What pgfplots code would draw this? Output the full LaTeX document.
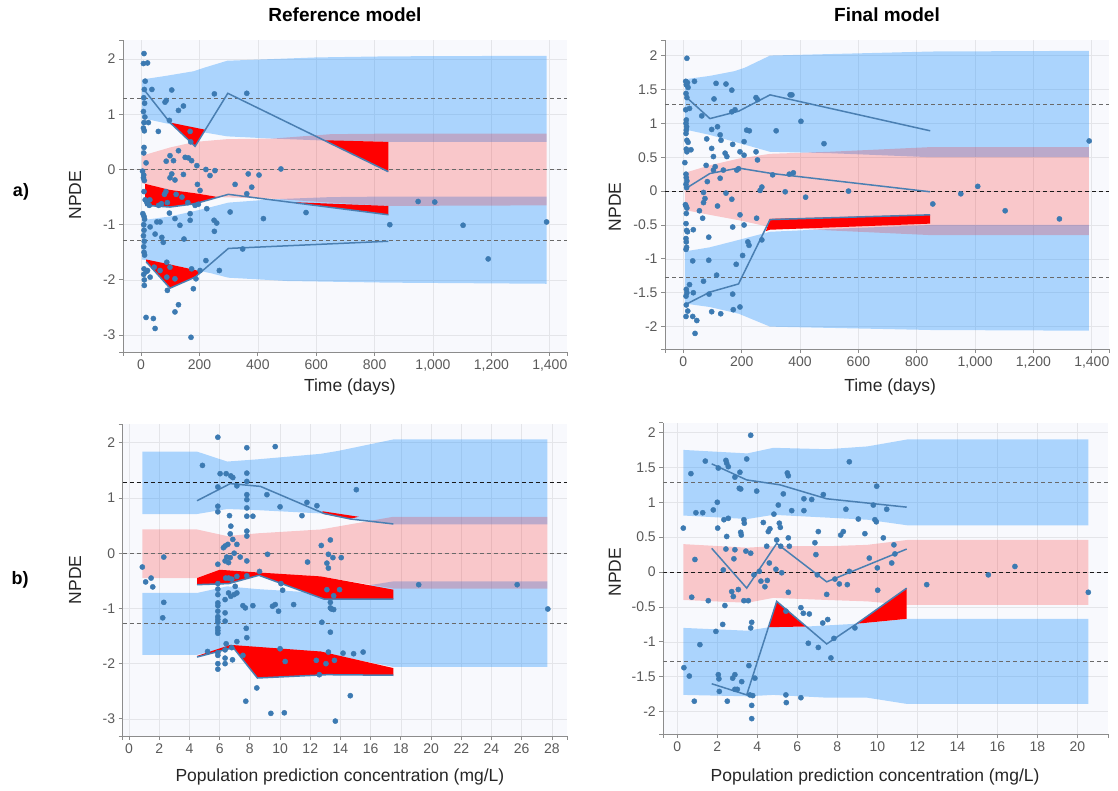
\documentclass[border=0pt]{standalone}
\usepackage{fontspec}
\setmainfont{Liberation Sans}
\usepackage{pgfplots}
\pgfplotsset{compat=1.18}

\definecolor{bandblue}{RGB}{30,144,255}
\definecolor{ptc}{RGB}{60,122,178}
\definecolor{linec}{RGB}{74,127,178}
\definecolor{bgc}{RGB}{248,249,253}
\definecolor{gridc}{RGB}{228,229,233}
\definecolor{axgray}{RGB}{140,140,140}
\definecolor{labgray}{RGB}{90,90,90}
\definecolor{dashg}{RGB}{105,105,105}
\definecolor{dashk}{RGB}{25,25,25}

\pgfplotsset{
  npde/.style={
    scale only axis, anchor=south west,
    axis x line*=bottom, axis y line*=left,
    axis line style={draw=axgray, line width=0.9pt},
    tick style={draw=axgray, line width=0.8pt},
    tick align=outside, major tick length=4pt,
    grid=major, grid style={draw=gridc, line width=0.7pt},
    axis background/.style={fill=bgc},
    tick label style={font=\fontsize{14}{16}\selectfont, text=labgray},
    label style={font=\fontsize{17.5}{20}\selectfont, text=black!85},
    /pgf/number format/assume math mode=true,
    /pgf/number format/1000 sep={,},
    extra tick style={grid=none},
    extra x tick labels={}, extra y tick labels={},
    ylabel={NPDE},
  },
  ubband/.style={draw=none, fill=bandblue, fill opacity=0.35, forget plot},
  pkband/.style={draw=none, fill=red, fill opacity=0.2, forget plot},
  redreg/.style={draw=none, fill=red, forget plot},
  obsline/.style={color=linec, line width=1.5pt, no markers},
  pts/.style={only marks, mark=*, mark size=2.6pt, mark options={draw=ptc, fill=ptc}},
  dg/.style={draw=dashg, line width=0.9pt, dash pattern=on 4pt off 3pt, no markers},
  dk/.style={draw=dashk, line width=0.9pt, dash pattern=on 4pt off 3pt, no markers},
}

\begin{document}
\begin{tikzpicture}
\path[use as bounding box] (0,0) rectangle (1118pt,791pt);

% ---------- a) Reference model ----------
\begin{axis}[npde, at={(123pt,439pt)}, width=444pt, height=312pt,
  xmin=-62, xmax=1459, ymin=-3.306, ymax=2.346,
  xtick={0,200,...,1400}, ytick={-3,-2,...,2},
  extra x ticks={-62,1459}, extra y ticks={-3.306,2.346},
  xlabel={Time (days)},
  xlabel style={at={(axis description cs:0.511,-0.112)}, anchor=center},
  ylabel style={at={(axis description cs:-0.108,0.503)}, anchor=center}]
\addplot[ubband] coordinates {(3,1.63) (90,1.70) (180,1.78) (220,1.85) (295,1.97) (600,2.03) (850,2.05) (1389,2.06)
  (1389,0.50) (850,0.50) (650,0.52) (450,0.56) (295,0.60) (185,0.70) (100,0.82) (3,0.93)};
\addplot[ubband] coordinates {(3,-0.92) (100,-0.85) (185,-0.75) (240,-0.68) (299,-0.60) (450,-0.54) (650,-0.50) (850,-0.49) (1389,-0.49)
  (1389,-2.07) (850,-2.05) (500,-2.02) (299,-1.96) (240,-1.88) (185,-1.82) (100,-1.72) (3,-1.63)};
\addplot[pkband] coordinates {(3,0.25) (100,0.40) (185,0.50) (295,0.55) (450,0.56) (650,0.64) (850,0.65) (1389,0.65)
  (1389,-0.65) (850,-0.66) (650,-0.60) (450,-0.53) (265,-0.50) (185,-0.43) (100,-0.37) (3,-0.25)};
\addplot[dg] coordinates {(-62,1.28) (1459,1.28)};
\addplot[dg] coordinates {(-62,0) (1459,0)};
\addplot[dg] coordinates {(-62,-1.28) (1459,-1.28)};
\addplot[redreg] coordinates {(99,0.85) (220,0.72) (185,0.42)};
\addplot[redreg] coordinates {(624,0.53) (847,0.50) (847,-0.03)};
\addplot[redreg] coordinates {(14,-0.26) (99,-0.37) (185,-0.43) (265,-0.50) (185,-0.62) (99,-0.68) (14,-0.65)};
\addplot[redreg] coordinates {(510,-0.59) (847,-0.66) (847,-0.82)};
\addplot[redreg] coordinates {(17,-1.63) (99,-1.72) (185,-1.82) (207,-1.85) (185,-1.95) (99,-2.15) (17,-1.67)};
\addplot[obsline] coordinates {(14,1.42) (99,0.85) (185,0.42) (297,1.38) (847,-0.04)};
\addplot[obsline] coordinates {(14,-0.65) (99,-0.68) (185,-0.62) (299,-0.45) (847,-0.82)};
\addplot[obsline] coordinates {(17,-1.67) (99,-2.15) (185,-1.95) (299,-1.43) (847,-1.30)};
\addplot[pts] coordinates {
(10,2.1) (8,1.92) (22,1.93) (14,1.6) (11,1.45) (37,1.45) (9,1.3) (12,1.2) (8,1.05) (13,0.95) (25,0.85) (10,0.85)
(8,0.75) (11,0.7) (10,0.4) (9,0.3) (17,0.12) (5,-0.03) (9,-0.1) (8,-0.15) (11,-0.2) (10,-0.4) (14,-0.55) (20,-0.6)
(28,-0.65) (6,-0.8) (10,-0.85) (12,-0.9) (9,-1.0) (10,-1.1) (8,-1.2) (11,-1.3) (9,-1.4) (10,-1.5) (12,-1.55)
(10,-1.8) (18,-1.85) (9,-1.9) (11,-2.0) (11,-2.1) (17,-2.68) (42,-2.7) (48,-2.88) (59,0.69) (82,1.22) (86,1.25)
(97,0.89) (105,1.44) (128,1.07) (145,1.15) (168,0.69) (170,0.5) (251,1.37) (362,1.38) (99,0.25) (111,0.16)
(86,0.15) (128,0.34) (151,0.22) (162,0.21) (173,0.16) (191,0.07) (105,-0.08) (116,-0.19) (99,-0.15) (145,-0.09)
(193,-0.27) (222,0.0) (236,-0.11) (253,-0.02) (202,-0.38) (225,-0.71) (196,-0.63) (322,-0.27) (305,-0.77)
(362,-0.44) (379,-0.32) (367,-0.08) (404,-0.1) (419,-0.89) (479,0.01) (565,-0.78) (852,-1.0) (949,-0.58)
(1006,-0.59) (1103,-1.01) (1189,-1.62) (1389,-0.95) (54,-0.95) (65,-0.95) (71,-1.23) (76,-1.32) (97,-0.79)
(116,-0.89) (133,-1.01) (147,-1.26) (168,-0.8) (168,-0.92) (222,-1.65) (250,-0.92) (259,-0.97) (251,-1.12)
(268,-1.83) (348,-1.44) (31,-1.04) (48,-1.17) (65,-1.83) (88,-1.68) (99,-1.77) (88,-1.95) (90,-2.19) (116,-1.98)
(128,-2.45) (116,-2.58) (171,-3.04) (179,-2.16) (173,-1.8) (188,-1.98) (202,-1.83) (31,-1.95) (45,-1.77)
(22,-1.83) (30,-0.55) (60,-0.65) (80,-0.45) (90,-0.6) (120,-0.45) (70,-0.62) (85,-0.4) (160,-0.6) (185,-0.65) (140,-0.5)};
\end{axis}

% ---------- a) Final model ----------
\begin{axis}[npde, at={(665pt,442pt)}, width=444pt, height=309pt,
  xmin=-63, xmax=1459, ymin=-2.33, ymax=2.23,
  xtick={0,200,...,1400}, ytick={-2,-1.5,...,2},
  extra x ticks={-63,1459}, extra y ticks={-2.33,2.23},
  xlabel={Time (days)},
  xlabel style={at={(axis description cs:0.507,-0.123)}, anchor=center},
  ylabel style={at={(axis description cs:-0.113,0.46)}, anchor=center}]
\addplot[ubband] coordinates {(5,1.65) (90,1.70) (175,1.77) (210,1.82) (297,2.0) (850,2.06) (1390,2.07)
  (1390,0.50) (850,0.50) (500,0.56) (297,0.58) (190,0.71) (90,0.83) (5,0.91)};
\addplot[ubband] coordinates {(5,-0.89) (90,-0.83) (190,-0.72) (297,-0.60) (500,-0.56) (850,-0.50) (1390,-0.50)
  (1390,-2.06) (850,-2.05) (297,-2.0) (190,-1.81) (90,-1.71) (5,-1.66)};
\addplot[pkband] coordinates {(5,0.27) (90,0.38) (190,0.48) (297,0.55) (500,0.58) (850,0.65) (1390,0.65)
  (1390,-0.65) (850,-0.65) (500,-0.58) (297,-0.53) (190,-0.43) (90,-0.35) (5,-0.28)};
\addplot[dg] coordinates {(-63,1.28) (1459,1.28)};
\addplot[dk] coordinates {(-63,0) (1459,0)};
\addplot[dg] coordinates {(-63,-1.28) (1459,-1.28)};
\addplot[redreg] coordinates {(283,-0.59) (297,-0.41) (846,-0.35) (846,-0.48) (605,-0.52) (297,-0.57)};
\addplot[obsline] coordinates {(9,1.39) (91,1.07) (190,1.18) (297,1.42) (846,0.89)};
\addplot[obsline] coordinates {(9,0.04) (91,0.26) (189,0.34) (303,0.26) (846,-0.01)};
\addplot[obsline] coordinates {(9,-1.67) (91,-1.49) (189,-1.37) (297,-0.42) (846,-0.35)};
\addplot[pts] coordinates {
(12,1.96) (8,1.62) (14,1.6) (10,1.57) (16,1.53) (9,1.44) (12,1.38) (8,1.2) (10,1.05) (9,1.0) (11,0.95) (10,0.9)
(9,0.85) (12,0.75) (16,0.72) (10,0.62) (12,0.58) (9,0.25) (10,0.2) (12,0.15) (9,0.1) (11,0.05) (5,0.42) (7,-0.2)
(9,-0.22) (12,-0.25) (10,-0.33) (9,-0.48) (11,-0.58) (14,-0.6) (9,-0.7) (10,-0.75) (11,-0.83) (9,-0.86)
(10,-1.45) (12,-1.5) (9,-1.55) (10,-1.68) (15,-1.77) (9,-1.85) (38,1.62) (21,1.22) (63,1.11) (105,1.36)
(112,1.59) (146,1.58) (166,1.49) (166,1.17) (177,1.2) (249,1.38) (254,1.35) (318,0.89) (366,1.42) (372,1.42)
(403,1.03) (482,0.7) (1391,0.74) (26,0.61) (80,0.77) (97,0.91) (117,0.95) (126,0.83) (129,0.75) (97,0.63)
(103,0.51) (143,0.56) (149,0.51) (169,0.69) (194,0.58) (208,0.53) (217,0.90) (226,0.89) (208,0.73) (249,0.58)
(254,0.46) (78,0.38) (82,0.14) (103,0.31) (109,0.36) (126,0.19) (137,0.31) (146,-0.03) (166,-0.12) (183,0.31)
(189,0.33) (263,0.01) (269,0.06) (306,0.24) (363,0.25) (377,0.27) (349,-0.01) (566,0.0) (419,-0.09) (69,-0.02)
(74,-0.11) (69,-0.17) (55,-0.29) (117,-0.22) (194,-0.35) (169,-0.53) (208,-0.5) (251,-0.4) (66,-0.4) (87,-0.68)
(34,-0.57) (221,-0.75) (225,-0.8) (269,-0.72) (855,-0.19) (951,-0.04) (1009,0.07) (1103,-0.29) (1289,-0.41)
(32,-1.03) (87,-1.02) (69,-1.33) (114,-1.24) (88,-1.52) (97,-1.78) (128,-1.81) (169,-1.52) (171,-1.75)
(181,-1.08) (194,-1.71) (203,-0.95) (21,-1.38) (34,-1.5) (32,-1.85) (46,-1.91) (40,-2.1)};
\end{axis}

% ---------- b) Reference model ----------
\begin{axis}[npde, at={(122.7pt,55pt)}, width=444.3pt, height=312pt,
  xmin=-0.42, xmax=29.0, ymin=-3.31, ymax=2.34,
  xtick={0,2,...,28}, ytick={-3,-2,...,2},
  extra x ticks={-0.42,29.0}, extra y ticks={-3.31,2.34},
  xlabel={Population prediction concentration (mg/L)},
  xlabel style={at={(axis description cs:0.489,-0.131)}, anchor=center},
  ylabel style={at={(axis description cs:-0.107,0.5)}, anchor=center}]
\addplot[ubband] coordinates {(0.88,1.84) (4.5,1.84) (6.5,1.66) (8.5,1.70) (12.7,1.80) (13.8,1.85) (17.5,2.06) (27.7,2.06)
  (27.7,0.52) (17.5,0.52) (12.7,0.72) (8.5,0.78) (6.5,0.80) (4.5,0.71) (0.88,0.71)};
\addplot[ubband] coordinates {(0.88,-0.72) (4.5,-0.72) (6.5,-0.60) (8.5,-0.65) (12.7,-0.72) (17.5,-0.51) (27.7,-0.51)
  (27.7,-2.06) (17.5,-2.06) (12.7,-1.80) (8.5,-1.75) (6.5,-1.72) (4.5,-1.84) (0.88,-1.84)};
\addplot[pkband] coordinates {(0.88,0.43) (4.5,0.43) (6.5,0.31) (8.5,0.36) (12.7,0.43) (17.5,0.66) (27.7,0.66)
  (27.7,-0.64) (17.5,-0.64) (12.7,-0.42) (8.5,-0.36) (6.5,-0.33) (4.5,-0.45) (0.88,-0.45)};
\addplot[dk] coordinates {(-0.42,1.28) (29,1.28)};
\addplot[dg] coordinates {(-0.42,0) (29,0)};
\addplot[dg] coordinates {(-0.42,-1.28) (29,-1.28)};
\addplot[redreg] coordinates {(12.8,0.76) (15.2,0.66) (14.6,0.62) (12.9,0.71)};
\addplot[redreg] coordinates {(4.5,-0.45) (6.0,-0.30) (8.6,-0.35) (12.7,-0.42) (17.5,-0.66) (17.5,-0.83) (12.9,-0.83) (8.6,-0.40) (6.6,-0.55) (4.5,-0.57)};
\addplot[redreg] coordinates {(4.5,-1.86) (6.7,-1.66) (12.7,-1.78) (17.5,-2.08) (17.5,-2.21) (13.1,-2.20) (8.5,-2.26) (6.9,-1.71) (4.5,-1.88)};
\addplot[obsline] coordinates {(4.5,0.95) (6.7,1.26) (8.7,1.21) (12.9,0.72) (14.65,0.62) (17.5,0.53)};
\addplot[obsline] coordinates {(4.5,-0.57) (6.6,-0.55) (8.6,-0.40) (12.9,-0.83) (17.5,-0.83)};
\addplot[obsline] coordinates {(4.5,-1.88) (6.9,-1.71) (8.5,-2.26) (13.1,-2.20) (17.5,-2.21)};
\addplot[pts] coordinates {
(0.88,-0.25) (1.1,-0.52) (1.46,-0.45) (1.57,-0.61) (2.3,-0.07) (2.3,-0.89) (2.23,-1.17) (4.86,1.59) (5.2,-1.78)
(5.88,2.1) (5.88,1.2) (5.88,0.85) (5.88,0.75) (5.88,-0.2) (5.88,-0.55) (5.88,-0.65) (5.88,-0.75) (5.88,-0.9)
(5.88,-0.95) (5.88,-1.05) (5.88,-1.15) (5.88,-1.2) (5.88,-1.25) (5.88,-1.35) (5.88,-1.4) (5.88,-1.45) (5.88,-1.8)
(5.88,-1.85) (5.88,-2.0) (5.88,-2.1) (6.03,1.44) (6.43,1.44) (6.74,1.4) (6.87,1.37) (7.14,1.22) (7.8,1.91)
(7.8,1.45) (7.8,1.3) (7.8,1.06) (7.8,0.97) (7.8,0.82) (7.8,0.67) (8.2,0.67) (7.8,0.4) (7.8,0.31) (7.8,-0.14)
(7.8,-0.41) (7.76,-1.36) (7.8,-1.53) (7.7,-0.99) (7.54,-0.95) (8.2,-0.95) (6.65,0.68) (6.74,0.49) (6.7,0.35)
(6.87,0.25) (6.36,0.13) (6.54,0.16) (6.25,0.1) (6.47,-0.07) (6.7,-0.08) (6.36,-0.14) (6.59,-0.17) (6.96,0.0)
(7.14,0.16) (7.36,-0.07) (6.59,-0.45) (6.4,-0.45) (6.8,-0.47) (7.14,-0.42) (6.59,-0.72) (6.74,-0.78) (6.96,-0.75)
(7.14,-0.72) (7.03,-0.6) (6.36,-0.84) (6.36,-1.08) (6.36,-1.23) (6.36,-1.75) (6.36,-1.9) (6.36,-2.0) (6.43,-1.64)
(6.8,-1.71) (6.85,-1.93) (7.54,-1.85) (7.14,-1.6) (7.73,-2.68) (8.46,-2.44) (8.64,-0.33) (9.17,-0.02) (9.13,1.06)
(9.68,1.93) (10.0,0.84) (10.06,-0.55) (10.17,-0.67) (9.39,-2.9) (10.28,-2.89) (9.5,-0.96) (9.68,-0.93) (9.9,-1.05)
(10.0,-1.73) (10.34,-1.96) (10.9,-0.93) (11.45,0.68) (11.78,0.92) (11.82,-0.16) (12.44,0.86) (12.4,-1.94)
(12.6,-2.2) (12.73,0.14) (12.77,-1.25) (13.04,-2.0) (13.1,-0.66) (13.1,-0.18) (13.2,-0.02) (13.2,-0.27)
(13.33,0.24) (13.33,-0.89) (13.33,-0.99) (13.33,-1.43) (13.2,-1.79) (13.4,-1.01) (13.55,-1.02) (13.5,-0.08)
(13.55,-0.77) (13.6,-1.94) (13.66,-3.04) (13.94,-0.66) (14.05,-0.08) (14.17,-1.81) (14.65,-2.58) (14.87,-1.82)
(15.05,1.15) (15.5,-1.79) (19.18,-0.57) (25.7,-0.57) (27.73,-1.01)};
\end{axis}

% ---------- b) Final model ----------
\begin{axis}[npde, at={(663.3pt,57pt)}, width=445pt, height=311.3pt,
  xmin=-0.7, xmax=21.55, ymin=-2.32, ymax=2.14,
  xtick={0,2,...,20}, ytick={-2,-1.5,...,2},
  extra x ticks={-0.7,21.55}, extra y ticks={-2.32,2.14},
  xlabel={Population prediction concentration (mg/L)},
  xlabel style={at={(axis description cs:0.476,-0.138)}, anchor=center},
  ylabel style={at={(axis description cs:-0.109,0.52)}, anchor=center}]
\addplot[ubband] coordinates {(0.3,1.75) (3.5,1.70) (4.8,1.78) (7.5,1.76) (9.5,1.80) (11.5,1.90) (20.55,1.90)
  (20.55,0.67) (11.5,0.67) (9.5,0.75) (7.5,0.78) (4.8,0.82) (3.5,0.76) (0.3,0.81)};
\addplot[ubband] coordinates {(0.3,-0.80) (3.5,-0.84) (4.6,-0.79) (6.5,-0.78) (9.0,-0.74) (11.5,-0.67) (20.55,-0.67)
  (20.55,-1.89) (11.5,-1.89) (9.5,-1.80) (7.5,-1.80) (4.8,-1.76) (3.5,-1.78) (0.3,-1.76)};
\addplot[pkband] coordinates {(0.3,0.40) (3.5,0.35) (4.8,0.37) (7.5,0.37) (9.5,0.39) (11.5,0.46) (20.55,0.46)
  (20.55,-0.47) (11.5,-0.47) (9.5,-0.42) (7.5,-0.40) (4.8,-0.37) (3.5,-0.44) (0.3,-0.40)};
\addplot[dg] coordinates {(-0.7,1.28) (21.55,1.28)};
\addplot[dk] coordinates {(-0.7,0) (21.55,0)};
\addplot[dg] coordinates {(-0.7,-1.28) (21.55,-1.28)};
\addplot[redreg] coordinates {(4.55,-0.79) (4.97,-0.42) (6.45,-0.78)};
\addplot[redreg] coordinates {(8.97,-0.74) (11.47,-0.23) (11.47,-0.67)};
\addplot[obsline] coordinates {(1.72,1.55) (3.47,1.32) (5.13,1.25) (7.47,1.05) (11.47,0.93)};
\addplot[obsline] coordinates {(1.72,0.34) (3.47,-0.23) (4.97,0.41) (7.47,-0.14) (11.47,0.33)};
\addplot[obsline] coordinates {(1.72,-1.60) (3.47,-1.76) (4.97,-0.42) (7.47,-1.03) (8.97,-0.74) (11.47,-0.23)};
\addplot[pts] coordinates {
(0.3,0.63) (0.33,-1.37) (0.6,-1.49) (0.68,1.41) (0.72,-0.36) (0.85,-1.85) (0.93,0.85) (0.88,0.18) (1.13,-1.04)
(1.27,0.85) (1.4,1.59) (1.55,-0.41) (1.8,0.89) (1.93,-0.85) (2.0,1.0) (2.02,0.63) (2.05,1.49) (2.05,-1.47)
(2.08,-1.53) (2.1,-1.71) (2.27,-0.75) (2.3,0.03) (2.33,0.75) (2.38,-0.48) (2.43,1.6) (2.47,1.56) (2.5,-1.85)
(2.47,0.51) (2.43,0.33) (2.55,1.51) (2.55,0.77) (2.72,-0.28) (2.8,-0.35) (2.83,0.19) (2.88,0.32) (2.77,-1.52)
(2.88,-1.47) (2.88,1.36) (2.88,-1.68) (3.0,-1.68) (3.05,-0.25) (3.13,1.43) (3.1,1.2) (3.17,1.19) (3.17,0.57)
(3.2,0.53) (3.22,-1.57) (3.33,0.75) (3.35,0.7) (3.43,0.3) (3.47,1.62) (3.33,-0.41) (3.55,-0.41) (3.58,-1.34)
(3.63,-1.76) (3.67,1.96) (3.67,0.27) (3.67,-0.8) (3.72,-0.72) (3.72,-1.91) (3.72,-2.1) (3.77,-1.77) (3.83,-0.04)
(3.88,-1.52) (3.97,1.16) (4.1,0.01) (4.18,-0.13) (4.3,0.71) (4.38,-0.21) (4.47,0.37) (4.5,-0.12) (4.55,0.58)
(4.6,0.13) (4.63,0.62) (4.83,0.83) (4.93,0.04) (4.97,0.46) (5.05,0.96) (5.1,0.7) (5.15,0.64) (5.17,0.37)
(5.22,-0.01) (5.3,1.12) (5.43,-0.56) (5.43,-1.76) (5.45,-1.87) (5.5,1.42) (5.55,1.38) (5.55,0.49) (5.6,0.37)
(5.55,-0.29) (5.72,0.88) (6.18,-1.8) (6.18,-0.51) (6.3,-0.59) (6.33,1.05) (6.33,0.88) (6.6,-0.6) (6.55,-1.02)
(6.72,1.04) (6.88,0.42) (6.93,0.25) (7.05,0.58) (7.0,-0.04) (7.05,-1.08) (7.27,-0.73) (7.3,1.11) (7.47,-0.32)
(7.52,-0.68) (7.68,-1.23) (7.83,-0.95) (7.88,-0.1) (8.1,-0.17) (8.17,0.53) (8.3,0.58) (8.43,0.9) (8.5,-0.18)
(8.6,0.01) (8.6,1.58) (8.88,-0.8) (9.05,0.76) (9.38,0.55) (9.6,0.2) (9.8,0.96) (9.88,0.75) (9.95,0.72) (9.97,1.23)
(10.0,0.06) (10.02,-0.26) (10.3,0.49) (10.47,0.9) (10.72,0.13) (10.83,0.39) (10.88,0.26) (12.47,-0.18)
(15.55,-0.04) (16.88,0.08) (20.55,-0.29)};
\end{axis}

% titles and row labels
\node[font=\bfseries\fontsize{19}{22}\selectfont] at (345pt,776pt) {Reference model};
\node[font=\bfseries\fontsize{19}{22}\selectfont] at (887pt,776pt) {Final model};
\node[font=\bfseries\fontsize{18}{21}\selectfont] at (21pt,599pt) {a)};
\node[font=\bfseries\fontsize{18}{21}\selectfont] at (20pt,211pt) {b)};
\end{tikzpicture}
\end{document}
